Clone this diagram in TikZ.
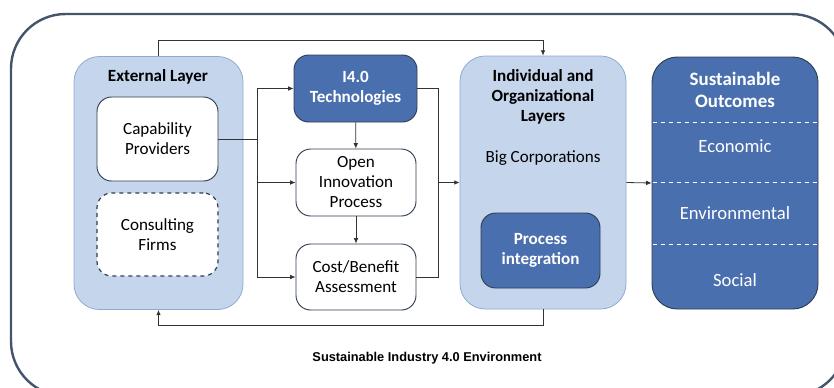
\documentclass[tikz,border=0pt]{standalone}
\usepackage{fontspec}
\setmainfont{Carlito}
\newfontfamily\arialfont{Liberation Sans}
\usetikzlibrary{arrows.meta}

\definecolor{layerblue}{HTML}{C5D6EC}
\definecolor{layerline}{HTML}{8FAAD2}
\definecolor{midblue}{HTML}{4A6FAF}
\definecolor{darkline}{HTML}{2E3D52}
\definecolor{frameline}{HTML}{44546A}

\tikzstyle{layer} = [rectangle, rounded corners=19pt, fill=layerblue, draw=layerline, line width=0.6pt]
\tikzstyle{whitebox} = [rectangle, rounded corners=11pt, fill=white, draw=darkline, line width=0.7pt, align=center, font=\fontsize{12.8}{15}\selectfont]
\tikzstyle{bluebox} = [rectangle, rounded corners=11pt, fill=midblue, draw=darkline, line width=0.7pt, align=center, text=white, font=\fontsize{12.8}{15}\selectfont\bfseries]
\tikzstyle{title} = [align=center, font=\fontsize{12.8}{15}\selectfont\bfseries]
\tikzstyle{outtext} = [text=white, font=\fontsize{14}{16}\selectfont]
\tikzstyle{arr} = [-{Latex[length=4pt,width=3.5pt]}, line width=0.6pt, draw=black!80]
\tikzstyle{wire} = [line width=0.6pt, draw=black!80]

\begin{document}
\begin{tikzpicture}[x=0.75pt, y=-0.75pt]
  \useasboundingbox (0,0) rectangle (834,387);
  % environment frame
  \draw[frameline, line width=1.8pt, rounded corners=41pt] (11,14) rectangle (846,396);
  \node[font=\arialfont\fontsize{9.6}{11}\selectfont\bfseries] (envlabel) at (427,358) {Sustainable Industry 4.0 Environment};

  % external layer
  \node[layer, minimum width=126.75pt, minimum height=189.75pt] (ext) at (158.5,183) {};
  \node[title] (exttitle) at (158,77) {External Layer};
  \node[whitebox, minimum width=90.75pt, minimum height=63pt] (cap) at (157.5,139) {Capability\\Providers};
  \node[whitebox, dashed, line width=0.9pt, minimum width=90.75pt, minimum height=62.25pt] (cons) at (157.5,234.5) {Consulting\\Firms};

  % middle column
  \node[bluebox, minimum width=92.25pt, minimum height=50.25pt] (tech) at (355.5,88.5) {I4.0\\Technologies};
  \node[whitebox, minimum width=90pt, minimum height=50.25pt] (oip) at (356,182.5) {Open\\Innovation\\Process};
  \node[whitebox, minimum width=90pt, minimum height=49.5pt] (cba) at (356,277) {Cost/Benefit\\Assessment};

  % individual and organizational layers
  \node[layer, minimum width=124.5pt, minimum height=189.75pt] (indiv) at (543,182.5) {};
  \node[title] (indivtitle) at (543,97) {Individual and\\Organizational\\Layers};
  \node[font=\fontsize{12.8}{15}\selectfont] (bigcorp) at (543,158) {Big Corporations};
  \node[bluebox, minimum width=89.25pt, minimum height=56.25pt] (proc) at (540.5,250.5) {Process\\integration};

  % sustainable outcomes
  \node[rectangle, rounded corners=19pt, fill=midblue, draw=darkline, line width=0.7pt, minimum width=124.5pt, minimum height=189pt] (outc) at (735,183) {};
  \foreach \yy in {122,182,244}
    \draw[white, dashed, line width=0.5pt] (652.5,\yy) -- (817.5,\yy);
  \node[outtext, align=center, font=\fontsize{14.2}{16.5}\selectfont\bfseries] (outtitle) at (735,90) {Sustainable\\Outcomes};
  \node[outtext] (econ) at (735,146) {Economic};
  \node[outtext] (envir) at (735,213) {Environmental};
  \node[outtext] (social) at (735,280) {Social};

  % connectors
  \coordinate (topline) at (0,40);
  \coordinate (botline) at (0,325);
  \coordinate (split) at (257,139);
  \coordinate (merge) at (438,182.5);

  \draw[arr] (ext.north) -- (ext.north |- topline) -| (indiv.north);
  \draw[wire] (cap.east) -- (split);
  \draw[arr] (split) |- (tech.west);
  \draw[arr] (split) |- (cba.west);
  \draw[arr] (split |- oip.west) -- (oip.west);
  \draw[arr] (tech) -- (oip);
  \draw[arr] (oip) -- (cba);
  \draw[wire] (tech.east) -| (merge);
  \draw[wire] (cba.east) -| (merge);
  \draw[arr] (merge) -- (indiv.west);
  \draw[arr] (indiv.east) -- (outc.west);
  \draw[arr] (indiv.south) -- (indiv.south |- botline) -| (ext.south);
\end{tikzpicture}
\end{document}
